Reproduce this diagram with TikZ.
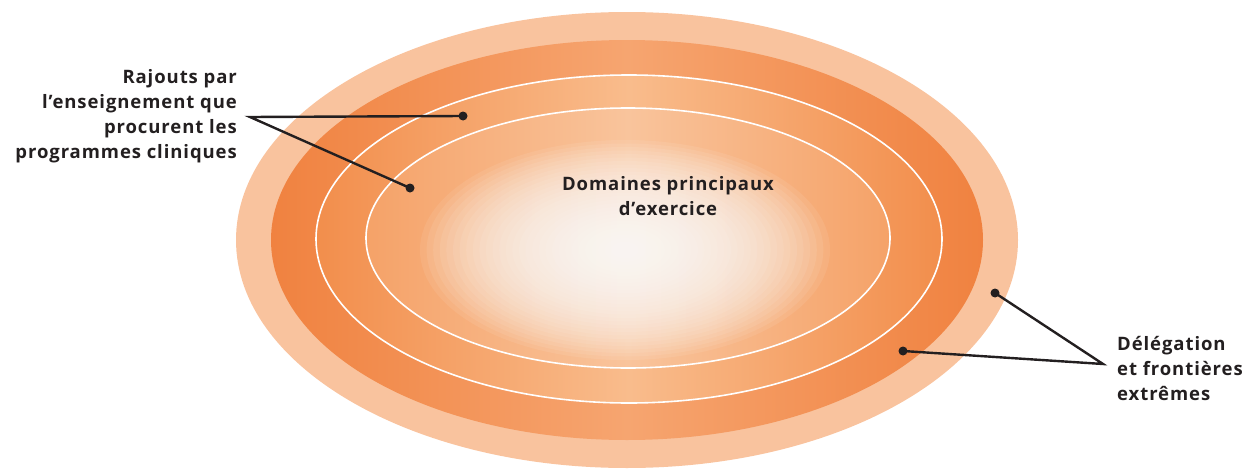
\documentclass[tikz,border=0pt]{standalone}
\usepackage{fontspec}
\setmainfont{Open Sans}[LetterSpace=5]
\usepackage{tikz}
\usepackage{xcolor}
\definecolor{inkgray}{RGB}{35,31,32}
\definecolor{bandlight}{RGB}{249,195,158}
\definecolor{banddeep}{RGB}{240,130,64}
\definecolor{bandsoft}{RGB}{246,165,112}
\definecolor{ringside}{RGB}{242,142,76}
\definecolor{ringtop}{RGB}{249,188,140}
\definecolor{ringmid}{RGB}{245,162,104}
\definecolor{corepeach}{RGB}{249,196,156}

\begin{document}
\begin{tikzpicture}[x=1pt, y=-1pt,
    lbl/.style={font=\fontsize{18.5}{25}\selectfont\bfseries, text=inkgray, inner sep=0pt},
    pin/.style={circle, fill=inkgray, inner sep=0pt, minimum size=9pt},
    leader/.style={inkgray, line width=2.4pt},
    ringline/.style={white, line width=1.6pt}]
    \useasboundingbox (0,0) rectangle (1256,471);

    % bands of the oval
    \fill[bandlight] (627,240) ellipse [x radius=391pt, y radius=228pt];
    \shade[left color=banddeep, right color=banddeep, middle color=bandsoft] (627,240) ellipse [x radius=356pt, y radius=200pt];
    \shade[left color=ringside, right color=ringside, middle color=ringtop] (629,239) ellipse [x radius=313pt, y radius=164pt];
    \shade[left color=ringmid, right color=ringmid, middle color=corepeach] (628,238) ellipse [x radius=262pt, y radius=130pt];

    % white core
    \foreach \k in {0,...,29}
        \fill[white, opacity=0.08] (625,250) ellipse [x radius={205pt-6.6pt*\k}, y radius={110pt-3.5pt*\k}];

    \draw[ringline] (629,239) ellipse [x radius=313pt, y radius=164pt];
    \draw[ringline] (628,238) ellipse [x radius=262pt, y radius=130pt];

    % labels
    \node[lbl, align=right, anchor=east] (rajouts) at (237,116) {Rajouts par\\l’enseignement que\\procurent les\\programmes cliniques};
    \node[lbl, align=center] (domaines) at (668,196) {Domaines principaux\\d’exercice};
    \node[lbl, align=left, anchor=west] (delegation) at (1117,368) {Délégation\\et frontières\\extrêmes};

    % leaders
    \coordinate (rajouts-fork) at (250,117);
    \coordinate (delegation-fork) at (1103,364);
    \node[pin] (pin-ens1) at (463,116) {};
    \node[pin] (pin-ens2) at (410,188) {};
    \node[pin] (pin-del1) at (995,293) {};
    \node[pin] (pin-del2) at (903,351) {};
    \draw[leader] (pin-ens1.center) -- (rajouts-fork) -- (pin-ens2.center);
    \draw[leader] (pin-del1.center) -- (delegation-fork) -- (pin-del2.center);
\end{tikzpicture}
\end{document}
